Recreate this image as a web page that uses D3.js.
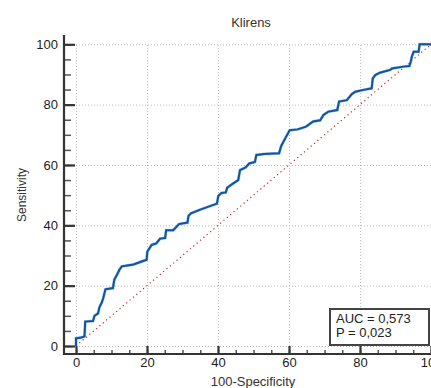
<!DOCTYPE html>
<html>
<head>
<meta charset="utf-8">
<script src="https://cdn.jsdelivr.net/npm/d3@7"></script>
<style>
  body { margin: 0; background: #fff; }
  svg { display: block; font-family: "Liberation Sans", Arial, sans-serif; }
</style>
</head>
<body>
<div id="chart"></div>
<script>
// ROC curve corners (100-Specificity, Sensitivity)
const fpr = [0, 0, 1.5, 2.4, 2.6, 4.8, 5.2, 6.2, 6.6, 7.3, 7.7, 8.3, 10.4, 10.8, 11.5, 12.2, 12.9, 14.5, 16.2, 18.5,
  19.9, 20.1, 21.3, 22.6, 23.7, 25.1, 25.4, 27.4, 29, 31.4, 31.7, 32.4, 35, 39.7, 40.1, 41, 42.2, 42.6, 44.3, 45.7,
  46.2, 47.8, 48.8, 50.4, 50.8, 53, 57.2, 57.8, 59.2, 60.2, 62.4, 64.8, 66.8, 68.8, 69.7, 71.1, 73.6, 74.1, 76.3, 77.7,
  78.7, 81, 83.3, 83.6, 84.3, 85.6, 88.5, 89, 92.2, 93.9, 94.3, 94.6, 95.1, 96.5, 96.8, 100];
const tpr = [0, 2.5, 2.8, 3.2, 8.1, 8.3, 10, 10.8, 12.8, 14.5, 16, 18.8, 19.2, 22, 23.5, 25.2, 26.4, 26.7, 27, 28,
  28.6, 31.3, 33.5, 34, 35.6, 35.8, 38.4, 38.4, 40.4, 40.9, 43.2, 44, 45.2, 47.2, 49.8, 50.7, 50.9, 52.5, 53.9, 55,
  58.3, 59.2, 60.5, 61, 63.3, 63.6, 63.9, 66.3, 69.4, 71.5, 71.8, 72.7, 74.4, 74.8, 76.6, 77.7, 78.2, 81, 81.5, 83.5,
  84.3, 84.9, 85.4, 88.7, 89.8, 90.6, 91.5, 92, 92.6, 92.8, 94.2, 95.9, 97.5, 97.5, 100, 100];

const xTicks = [0, 20, 40, 60, 80, 100];
const yTicks = [0, 20, 40, 60, 80, 100];
const minorTicks = d3.range(0, 101, 5);
const titleText = "Klirens";
const xLabel = "100-Specificity";
const yLabel = "Sensitivity";
const statLines = ["AUC = 0,573", "P = 0,023"];

const width = 431, height = 388;

const x = d3.scaleLinear().domain([0, 100]).range([76, 431]);
const y = d3.scaleLinear().domain([0, 100]).range([346, 44.3]);

const axisX = 64;   // vertical axis line
const axisY = 354;  // horizontal axis line

const svg = d3.select('#chart')
  .append('svg')
  .attr('width', width)
  .attr('height', height);

// dotted grid
const grid = svg.append('g')
  .attr('stroke', '#bdbdbd')
  .attr('stroke-width', 1)
  .attr('stroke-dasharray', '1,2');

grid.selectAll('.gx')
  .data(xTicks)
  .enter()
  .append('line')
  .attr('x1', d => x(d) + 0.5)
  .attr('x2', d => x(d) + 0.5)
  .attr('y1', y(0))
  .attr('y2', y(100));

grid.selectAll('.gy')
  .data(yTicks)
  .enter()
  .append('line')
  .attr('x1', x(0))
  .attr('x2', x(100))
  .attr('y1', d => y(d) + 0.5)
  .attr('y2', d => y(d) + 0.5);

// reference diagonal
svg.append('line')
  .attr('x1', x(0)).attr('y1', y(0))
  .attr('x2', x(100)).attr('y2', y(100))
  .attr('stroke', '#c0282d')
  .attr('stroke-width', 1.2)
  .attr('stroke-dasharray', '1.2,3.2');

// ROC curve
const pts = fpr.map((d, i) => [d, tpr[i]]);
const line = d3.line()
  .x(d => x(d[0]))
  .y(d => y(d[1]));

svg.append('path')
  .datum(pts)
  .attr('fill', 'none')
  .attr('stroke', '#a9c4e6')
  .attr('stroke-width', 3)
  .attr('d', line);

svg.append('path')
  .datum(pts)
  .attr('fill', 'none')
  .attr('stroke', '#0b55a3')
  .attr('stroke-width', 2)
  .attr('d', line);

// minor ticks
svg.append('g')
  .attr('transform', `translate(${axisX},0)`)
  .call(d3.axisLeft(y).tickValues(minorTicks).tickSizeInner(-7).tickSizeOuter(0).tickFormat(''))
  .call(g => g.select('.domain').remove())
  .call(g => g.selectAll('line').attr('stroke', '#555').attr('stroke-width', 1.5));

svg.append('g')
  .attr('transform', `translate(0,${axisY})`)
  .call(d3.axisBottom(x).tickValues(minorTicks).tickSizeInner(-4).tickSizeOuter(0).tickFormat(''))
  .call(g => g.select('.domain').remove())
  .call(g => g.selectAll('line').attr('stroke', '#555').attr('stroke-width', 1.5));

// major ticks + labels
svg.append('g')
  .attr('transform', `translate(${axisX},0)`)
  .call(d3.axisLeft(y).tickValues(yTicks).tickSizeInner(-11).tickSizeOuter(0).tickPadding(6))
  .call(g => g.select('.domain').remove())
  .call(g => g.selectAll('line').attr('stroke', '#333').attr('stroke-width', 2.2))
  .call(g => g.selectAll('text').attr('font-size', 13).attr('fill', '#222')
    .attr('font-family', '"Liberation Sans", Arial, sans-serif'));

svg.append('g')
  .attr('transform', `translate(0,${axisY})`)
  .call(d3.axisBottom(x).tickValues(xTicks).tickSizeInner(-8).tickSizeOuter(0).tickPadding(4))
  .call(g => g.select('.domain').remove())
  .call(g => g.selectAll('line').attr('stroke', '#333').attr('stroke-width', 2.2))
  .call(g => g.selectAll('text').attr('font-size', 13).attr('fill', '#222')
    .attr('font-family', '"Liberation Sans", Arial, sans-serif'));

// axis lines
svg.append('line')
  .attr('x1', axisX).attr('x2', axisX)
  .attr('y1', 35).attr('y2', axisY + 1)
  .attr('stroke', '#333').attr('stroke-width', 2.2);

svg.append('line')
  .attr('x1', axisX - 1).attr('x2', width)
  .attr('y1', axisY).attr('y2', axisY)
  .attr('stroke', '#333').attr('stroke-width', 2.2);

// titles
svg.append('text')
  .attr('x', 251).attr('y', 27)
  .attr('text-anchor', 'middle')
  .attr('font-size', 13)
  .attr('fill', '#333')
  .text(titleText);

svg.append('text')
  .attr('transform', 'translate(26,195) rotate(-90)')
  .attr('text-anchor', 'middle')
  .attr('font-size', 12)
  .attr('fill', '#333')
  .text(yLabel);

svg.append('text')
  .attr('x', 253).attr('y', 386)
  .attr('text-anchor', 'middle')
  .attr('font-size', 13)
  .attr('fill', '#333')
  .text(xLabel);

// AUC box
const box = svg.append('g').attr('transform', 'translate(330,309)');
box.append('rect')
  .attr('width', 99).attr('height', 36)
  .attr('fill', '#fff')
  .attr('stroke', '#444')
  .attr('stroke-width', 2);
box.selectAll('text')
  .data(statLines)
  .enter()
  .append('text')
  .attr('x', 6)
  .attr('y', (d, i) => 14 + i * 14)
  .attr('font-size', 13)
  .attr('fill', '#222')
  .text(d => d);
</script>
</body>
</html>
